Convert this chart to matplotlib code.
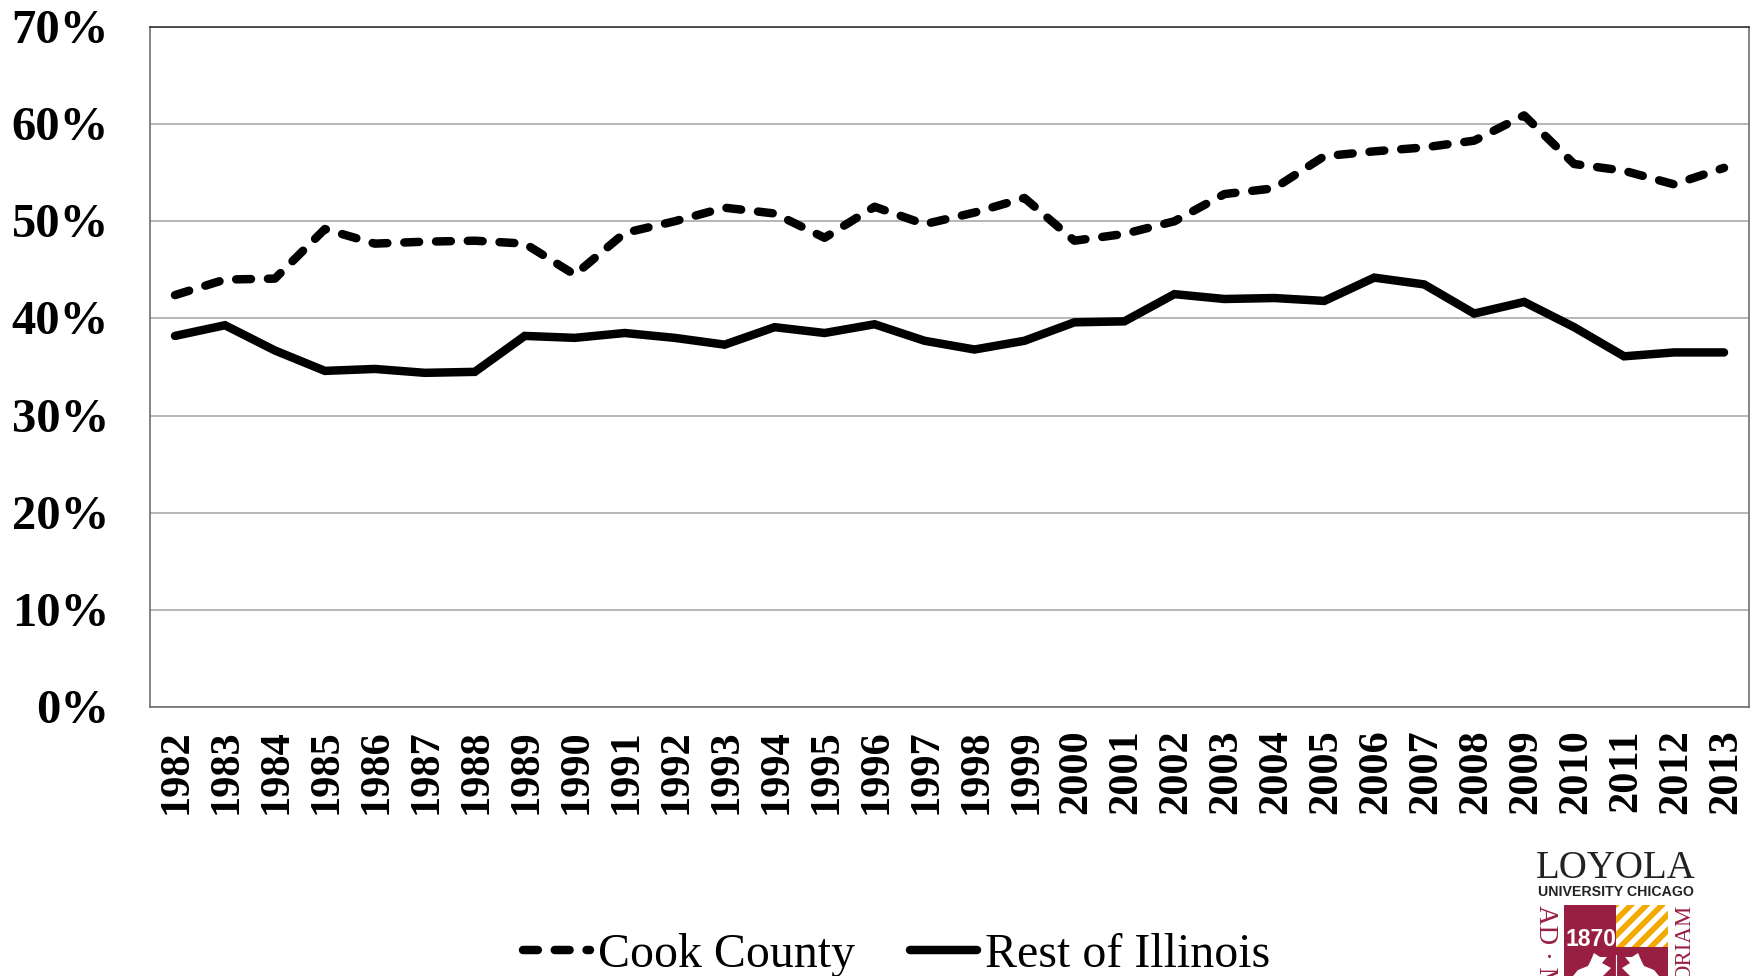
"""Cook County vs rest of Illinois line chart."""

import matplotlib
matplotlib.use('Agg')
import matplotlib.pyplot as plt
from matplotlib.patches import Rectangle, Polygon
from matplotlib.transforms import ScaledTranslation

plt.rcParams['font.family'] = ['Liberation Serif', 'DejaVu Serif']

years = list(range(1982, 2014))
cook = [42.4, 44.0, 44.1, 49.2, 47.7, 47.9, 48.0, 47.7, 44.5, 48.8, 50.0, 51.4,
        50.8, 48.3, 51.5, 49.7, 50.9, 52.4, 48.0, 48.7, 50.0, 52.8, 53.4, 56.7,
        57.2, 57.6, 58.3, 60.9, 55.9, 55.2, 53.8, 55.5]
rest = [38.2, 39.3, 36.7, 34.6, 34.8, 34.4, 34.5, 38.2, 38.0, 38.5, 38.0, 37.3,
        39.1, 38.5, 39.4, 37.7, 36.8, 37.7, 39.6, 39.7, 42.5, 42.0, 42.1, 41.8,
        44.2, 43.5, 40.5, 41.7, 39.1, 36.1, 36.5, 36.5]
yticks = [0, 10, 20, 30, 40, 50, 60, 70]
ylabels = ['0%', '10%', '20%', '30%', '40%', '50%', '60%', '70%']

W, H = 1758, 976
line_width = 6.1

fig = plt.figure(figsize=(W / 100, H / 100), dpi=100)
ax = fig.add_axes([150 / W, 1 - 707 / H, 1599 / W, 680 / H])

ax.plot(range(len(years)), cook, color='k', lw=line_width, dashes=(1.75, 2.0),
        dash_capstyle='round', dash_joinstyle='round', label='Cook County')
ax.plot(range(len(years)), rest, color='k', lw=line_width,
        solid_capstyle='round', solid_joinstyle='miter', label='Rest of Illinois')

ax.set_xlim(-0.5, len(years) - 0.5)
ax.set_ylim(0, 70)
ax.set_yticks(yticks)
ax.set_yticklabels(ylabels, fontsize=35, fontweight='bold')
ax.set_xticks(range(len(years)))
ax.set_xticklabels(years, fontsize=30.5, fontweight='bold', rotation=90)
ax.tick_params(axis='both', length=0)
ax.tick_params(axis='y', pad=29.5)
ax.tick_params(axis='x', pad=16)
for lab in ax.get_yticklabels():
    lab.set_verticalalignment('center')
    lab.set_transform(lab.get_transform() + ScaledTranslation(0, -4 / 100, fig.dpi_scale_trans))
for lab in ax.get_xticklabels():
    lab.set_transform(lab.get_transform() + ScaledTranslation(2 / 100, 0, fig.dpi_scale_trans))
ax.grid(axis='y', color='#a3a3a3', lw=1.1)
ax.set_axisbelow(True)
for s in ax.spines.values():
    s.set_color('#6e6e6e')
    s.set_linewidth(1.2)
ax.spines['top'].set_color('#333333')

fig.legend(loc='center', bbox_to_anchor=(897 / W, 1 - 955 / H), ncol=2, frameon=False,
           fontsize=34.5, handlelength=1.4, handletextpad=0.17, columnspacing=1.14,
           borderpad=0, borderaxespad=0)

# logo, drawn in pixel coordinates and cut off by the bottom edge
logo = fig.add_axes([0, 0, 1, 1], zorder=5)
logo.set_xlim(0, W)
logo.set_ylim(H, 0)
logo.axis('off')
maroon = '#981f42'
gold = '#f2a900'
logo.text(1615.5, 878, 'LOYOLA', fontsize=28, color='#222222', ha='center', va='baseline')
logo.text(1615.5, 896.5, 'UNIVERSITY CHICAGO', fontsize=10.2, color='#222222', ha='center',
          va='baseline', fontweight='bold', family=['Liberation Sans'])
logo.add_patch(Rectangle((1564, 905), 104, 80, fc=maroon, ec='none'))
box = Rectangle((1616, 905), 52, 42, fc='white', ec='none')
logo.add_patch(box)
for i in range(-3, 4):
    x0 = 1616 + i * 15.5
    st = Polygon([(x0, 947), (x0 + 8, 947), (x0 + 50, 905), (x0 + 42, 905)], fc=gold, ec='none')
    logo.add_patch(st)
    st.set_clip_path(box)
logo.text(1591, 940, '1870', fontsize=16.5, color='white', ha='center', va='center',
          fontweight='bold', family=['Liberation Sans'])
logo.add_patch(Polygon([(1573, 976), (1578, 970), (1588, 966), (1591, 960), (1594, 953),
                        (1600, 957), (1607, 957), (1602, 963), (1611, 968), (1608, 971),
                        (1603, 976)], fc='white', ec='none'))
logo.add_patch(Polygon([(1659, 976), (1654, 970), (1644, 966), (1641, 960), (1638, 953),
                        (1632, 957), (1625, 957), (1630, 963), (1622, 968), (1625, 971),
                        (1630, 976)], fc='white', ec='none'))
logo.plot([1616, 1616], [955, 976], color='white', lw=0.8)
logo.text(1546, 905, 'AD · M', fontsize=19.5, color=maroon, rotation=-90, ha='center', va='top')
logo.text(1685, 905, 'ORIAM', fontsize=16.5, color=maroon, rotation=90, ha='center', va='top')

plt.savefig('out.png', dpi=100)
